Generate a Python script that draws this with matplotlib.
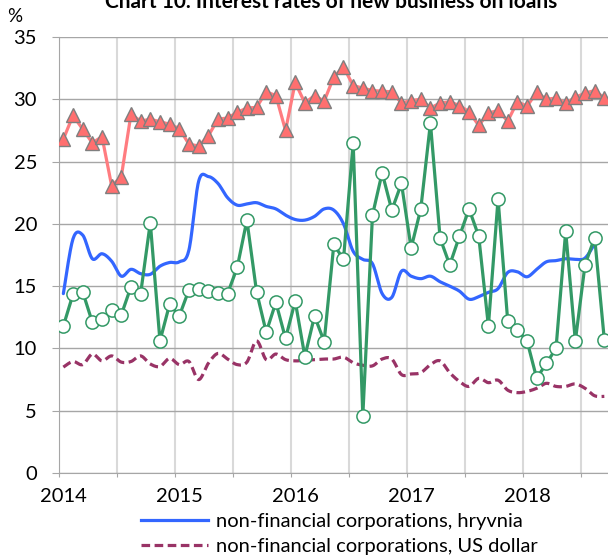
import numpy as np
import matplotlib.pyplot as plt
from matplotlib.lines import Line2D

# monthly rates, %, Jan 2014 - Sep 2018
nfc_uah = [14.4, 18.8, 19.1, 17.2, 17.6, 17.0, 15.8, 16.35, 16.0, 15.95, 16.6, 16.9,
           16.95, 17.9, 23.4, 23.8, 23.25, 22.1, 21.5, 21.6, 21.7, 21.4, 21.2, 20.7,
           20.35, 20.3, 20.6, 21.2, 21.1, 20.0, 17.8, 17.15, 16.8, 14.4, 14.1, 16.2,
           15.8, 15.6, 15.8, 15.35, 15.0, 14.6, 13.95, 14.15, 14.5, 14.8, 16.1, 16.15,
           15.75, 16.35, 16.95, 17.05, 17.2, 17.15, 17.25, 18.4]
nfc_usd = [8.5, 8.95, 8.7, 9.55, 9.0, 9.4, 8.9, 8.95, 9.4, 8.75, 8.55, 9.2,
           8.7, 8.95, 7.5, 8.8, 9.6, 9.15, 8.7, 8.9, 10.6, 9.1, 9.55, 9.1,
           9.0, 9.05, 9.1, 9.15, 9.15, 9.3, 8.85, 8.65, 8.6, 9.15, 9.15, 7.9,
           7.95, 8.05, 8.7, 9.0, 8.05, 7.35, 6.95, 7.6, 7.25, 7.45, 6.65, 6.45,
           6.55, 6.8, 7.2, 6.95, 6.95, 7.15, 6.8, 6.2, 6.15]
hh_uah = [26.8, 28.7, 27.6, 26.5, 27.0, 23.05, 23.8, 28.8, 28.25, 28.4, 28.2, 28.0,
          27.65, 26.4, 26.25, 27.05, 28.4, 28.5, 28.95, 29.3, 29.35, 30.6, 30.3, 27.5,
          31.35, 29.7, 30.3, 29.85, 31.8, 32.6, 31.1, 30.9, 30.7, 30.65, 30.6, 29.7,
          29.9, 30.0, 29.3, 29.7, 29.8, 29.5, 29.0, 27.9, 28.9, 29.1, 28.25, 29.8,
          29.45, 30.55, 30.0, 30.1, 29.7, 30.15, 30.5, 30.7, 30.1]
hh_usd = [11.8, 14.35, 14.55, 12.1, 12.35, 13.1, 12.7, 14.95, 14.4, 20.1, 10.6, 13.55,
          12.6, 14.7, 14.8, 14.6, 14.45, 14.4, 16.5, 20.3, 14.55, 11.3, 13.7, 10.8,
          13.8, 9.35, 12.6, 10.55, 18.35, 17.15, 26.5, 4.6, 20.7, 24.1, 21.1, 23.25,
          18.05, 21.2, 28.1, 18.85, 16.7, 19.0, 21.2, 19.0, 11.8, 22.0, 12.2, 11.5,
          10.6, 7.6, 8.8, 10.0, 19.4, 10.6, 16.7, 18.9, 10.7]

year_labels = ['2014', '2015', '2016', '2017', '2018']
legend_labels = ['non-financial corporations, hryvnia',
                 'non-financial corporations, US dollar']

plt.rcParams['font.family'] = ['Lato', 'DejaVu Sans']
FS = 14.5

OFF = 0.42  # points sit inside the month


def smooth(y, n=16):
    # Excel style smoothed line: bezier through the monthly points
    y = np.asarray(y, float)
    x = np.arange(len(y), dtype=float) + OFF
    xp = np.concatenate([[x[0]], x, [x[-1]]])
    yp = np.concatenate([[y[0]], y, [y[-1]]])
    t = np.linspace(0, 1, n, endpoint=False)
    xs, ys = [], []
    for i in range(1, len(y)):
        for arr, out in ((xp, xs), (yp, ys)):
            p0, p1, p2, p3 = arr[i - 1], arr[i], arr[i + 1], arr[i + 2]
            c1 = p1 + (p2 - p0) / 6
            c2 = p2 - (p3 - p1) / 6
            out.extend((1 - t)**3 * p1 + 3 * (1 - t)**2 * t * c1
                       + 3 * (1 - t) * t**2 * c2 + t**3 * p2)
    xs.append(x[-1])
    ys.append(y[-1])
    return np.array(xs), np.array(ys)


W, H = 608, 555
fig = plt.figure(figsize=(W / 100, H / 100), dpi=100)
x0, y0, ytop, px_month = 59.3, 473, 37, 9.66
ax = fig.add_axes([x0 / W, 1 - y0 / H, (W - x0) / W, (y0 - ytop) / H])

blue = '#3366FF'
maroon = '#993366'
green = '#339966'
dash = (2.7, 1.4)

bx, by = smooth(nfc_uah)
ax.plot(bx, by, color=blue, lw=2.3, zorder=3, solid_capstyle='round')
dx, dy = smooth(nfc_usd)
ax.plot(dx, dy, color=maroon, lw=2.3, dashes=dash, zorder=3)

m = np.arange(len(hh_uah)) + OFF
ax.plot(m, hh_uah, color='#FF7C80', lw=2.3, marker='^', ms=9.5,
        mfc='#FF6F6F', mec='#7F7F7F', mew=1.0, zorder=4)
m = np.arange(len(hh_usd)) + OFF
ax.plot(m, hh_usd, color=green, lw=2.3, marker='o', ms=9.5,
        mfc='white', mec=green, mew=1.1, zorder=5)

ax.set_xlim(0, (W - x0) / px_month)
ax.set_ylim(0, 35)
ax.set_yticks(range(0, 36, 5))
ax.set_xticks(range(0, 57, 6))
ax.set_xticklabels([])
ax.set_xticks([12 * i + OFF for i in range(len(year_labels))], minor=True)
ax.set_xticklabels(year_labels, minor=True)
ax.tick_params(axis='x', which='minor', length=0, pad=11, labelsize=FS)
ax.tick_params(axis='x', which='major', length=3, color='#A6A6A6')
ax.tick_params(axis='y', length=5, color='#A6A6A6', labelsize=FS, pad=11)

ax.grid(axis='x', which='major', color='#D9D9D9', lw=1.5)
ax.grid(axis='y', color='#A6A6A6', lw=1.0)
ax.set_axisbelow(True)
for s in ['top', 'right']:
    ax.spines[s].set_visible(False)
for s in ['left', 'bottom']:
    ax.spines[s].set_color('#A6A6A6')

fig.text(15 / W, 1 - 16 / H, '%', ha='center', va='center', fontsize=FS - 1)
fig.text(0.545, 1 - 8 / H, 'Chart 10. Interest rates of new business on loans',
         ha='center', va='baseline', fontsize=15, fontweight='bold')

handles = [Line2D([], [], color=blue, lw=2.3),
           Line2D([], [], color=maroon, lw=2.3, dashes=dash)]
fig.legend(handles, legend_labels, loc='upper left',
           bbox_to_anchor=(141 / W, 1 - 513 / H), frameon=False,
           fontsize=FS, handlelength=3.35, handletextpad=0.35,
           labelspacing=0.4, borderpad=0, borderaxespad=0)

fig.savefig('out.png', dpi=100)
